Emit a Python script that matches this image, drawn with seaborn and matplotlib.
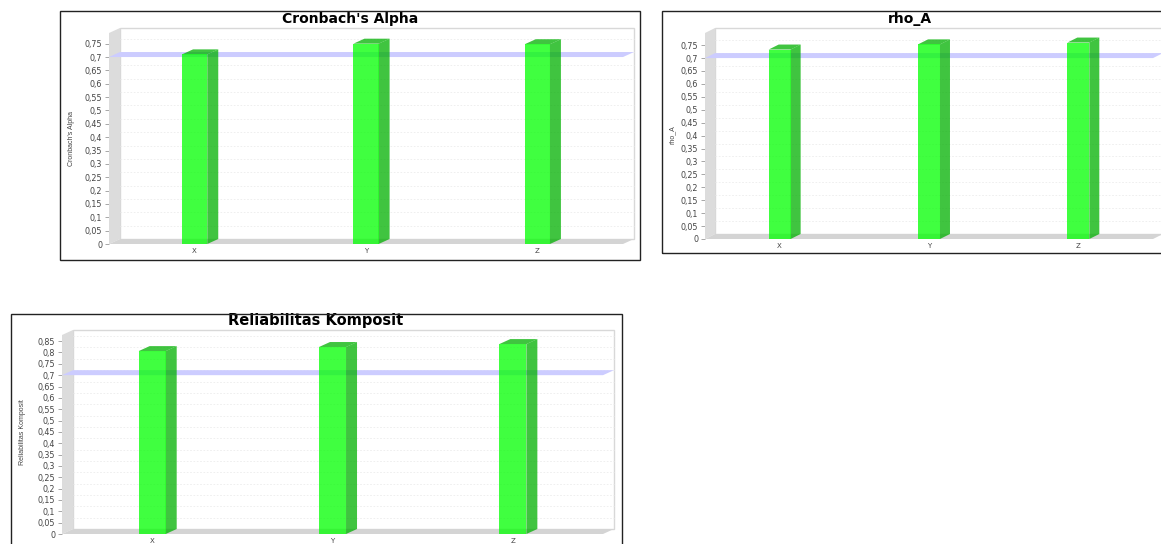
import matplotlib
matplotlib.use("Agg")
import matplotlib.pyplot as plt
import pandas as pd
import seaborn as sns
from matplotlib.patches import Polygon, Rectangle
from matplotlib.transforms import Affine2D, IdentityTransform

categories = ["X", "Y", "Z"]
alpha_values = [0.71, 0.75, 0.748]
rho_values = [0.733, 0.753, 0.76]
komposit_values = [0.806, 0.824, 0.837]
threshold = 0.7

alpha_ticks = [i * 0.05 for i in range(16)]
rho_ticks = [i * 0.05 for i in range(16)]
komposit_ticks = [i * 0.05 for i in range(18)]

W, H = 1161, 544
sns.set_theme(style="white")
plt.rcParams["font.family"] = ["DejaVu Sans"]
fig = plt.figure(figsize=(W / 100, H / 100), dpi=100, facecolor="white")

GREEN = "#00ff00"
DARK = "#00b000"
TEXT = "#444444"


def tick_text(v):
    s = f"{v:.2f}".rstrip("0").rstrip(".")
    return s.replace(".", ",")


def panel(values, ticks, title, frame, plot, ymax, depth, title_xy, ylabel_xy, bar_w, title_size):
    fx0, fy0, fx1, fy1 = frame
    fig.add_artist(Rectangle((fx0 / W, 1 - fy1 / H), (fx1 - fx0) / W, (fy1 - fy0) / H,
                             transform=fig.transFigure, fill=False, ec="#222222", lw=1.0))
    px0, py0, px1, py1 = plot
    ax = fig.add_axes([px0 / W, 1 - py1 / H, (px1 - px0) / W, (py1 - py0) / H])
    ax.patch.set_alpha(0)
    df = pd.DataFrame({"cat": categories, "value": values})
    sns.barplot(data=df, x="cat", y="value", color=GREEN, saturation=1, alpha=0.75,
                width=bar_w, ax=ax, zorder=5, linewidth=0, edgecolor="none")
    ax.set_xlim(-0.5, 2.5)
    ax.set_ylim(0, ymax)
    dx, dy = depth
    back = ax.transData + Affine2D().translate(dx, dy)

    def d(x, y, off=False):
        a, b = ax.transData.transform((x, y))
        return (a + dx, b + dy) if off else (a, b)

    def poly(pts, z, **kw):
        ax.add_patch(Polygon(pts, closed=True, transform=IdentityTransform(),
                             clip_on=False, zorder=z, **kw))

    # walls, floor and back outline
    poly([d(-0.5, 0), d(-0.5, ymax), d(-0.5, ymax, True), d(-0.5, 0, True)], 1, fc="#dcdcdc", ec="none")
    poly([d(-0.5, 0), d(2.5, 0), d(2.5, 0, True), d(-0.5, 0, True)], 1, fc="#d4d4d4", ec="none")
    poly([d(-0.5, 0, True), d(-0.5, ymax, True), d(2.5, ymax, True), d(2.5, 0, True)], 0.5,
         fc="white", ec="#d8d8d8", lw=1.0)

    # grid on the back wall
    for t in ticks[1:]:
        ax.plot([-0.5, 2.5], [t, t], transform=back, color="#ececec", lw=0.6, ls=(0, (2, 2)),
                clip_on=False, zorder=0.8)

    # threshold band
    poly([d(-0.5, threshold), d(2.5, threshold), d(2.5, threshold, True), d(-0.5, threshold, True)],
         2, fc="#ccccff", ec="none")

    # bar sides and tops
    for i, v in enumerate(values):
        x0, x1 = i - bar_w / 2, i + bar_w / 2
        poly([d(x1, 0), d(x1, v), d(x1, v, True), d(x1, 0, True)], 4, fc=DARK, ec="none", alpha=0.75)
        poly([d(x0, v), d(x1, v), d(x1, v, True), d(x0, v, True)], 4, fc=DARK, ec="none", alpha=0.75)

    for s in ax.spines.values():
        s.set_visible(False)
    ax.set_yticks(ticks)
    ax.set_yticklabels([tick_text(t) for t in ticks], fontsize=5.8, color=TEXT)
    ax.tick_params(axis="y", left=True, length=3, width=0.6, color="#999999", pad=2)
    ax.tick_params(axis="x", bottom=False, length=0, labelsize=5, labelcolor=TEXT, pad=3)
    ax.set_xlabel("")
    ax.set_ylabel(title, fontsize=5, color=TEXT, family="Liberation Sans")
    ax.yaxis.set_label_coords((ylabel_xy[0] - px0) / (px1 - px0), (py1 - ylabel_xy[1]) / (py1 - py0))
    ax.set_title(title, fontsize=title_size, fontweight="bold", color="black",
                 x=(title_xy[0] - px0) / (px1 - px0), y=(py1 - title_xy[1]) / (py1 - py0),
                 va="center", pad=0)


panel(alpha_values, alpha_ticks, "Cronbach's Alpha", (60, 11, 640, 260), (109, 33, 623, 244), 0.79,
      (11, 5), (350, 19), (75, 138), 0.147, 10)
panel(rho_values, rho_ticks, "rho_A", (662, 11, 1170, 253), (705, 33, 1153, 239), 0.797,
      (10, 5), (910, 19), (676, 135), 0.147, 10)
panel(komposit_values, komposit_ticks, "Reliabilitas Komposit", (11, 314, 622, 550), (62, 335, 603, 534), 0.877,
      (11, 5), (316, 321), (26, 432), 0.15, 10.5)

fig.savefig("out.png", dpi=100)
